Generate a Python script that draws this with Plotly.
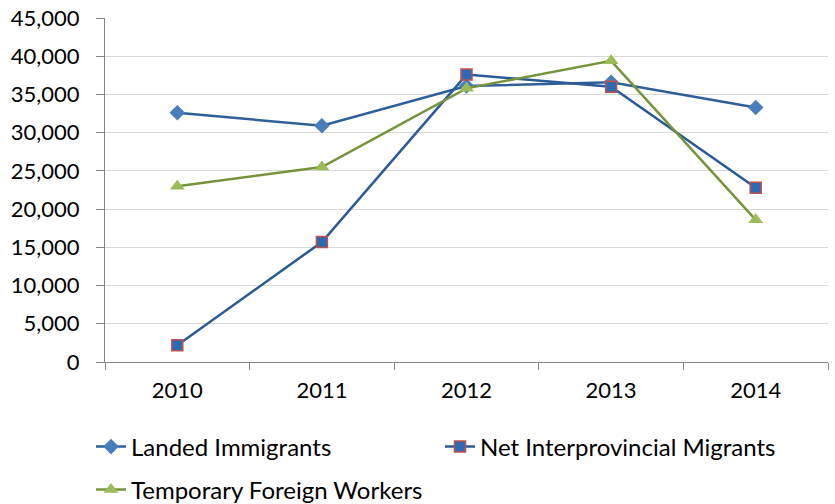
import plotly.graph_objects as go

years = ["2010", "2011", "2012", "2013", "2014"]
landed = [32600, 30900, 36100, 36600, 33300]
net_interprov = [2200, 15700, 37600, 36000, 22800]
tfw = [23000, 25500, 35800, 39400, 18600]
y_ticks = [0, 5000, 10000, 15000, 20000, 25000, 30000, 35000, 40000, 45000]

FONT = "Lato, Carlito, Calibri, sans-serif"
W, H = 835, 504

fig = go.Figure()
fig.add_trace(go.Scatter(
    x=years, y=landed, name="Landed Immigrants", mode="lines+markers",
    line=dict(color="#2f5f98", width=2.5),
    marker=dict(symbol="diamond", size=12, color="#4a7ebb", line=dict(width=0)),
    legend="legend"))
fig.add_trace(go.Scatter(
    x=years, y=net_interprov, name="Net Interprovincial Migrants", mode="lines+markers",
    line=dict(color="#2b5a96", width=2.5),
    marker=dict(symbol="square", size=11, color="#2d6ab1", line=dict(width=1.5, color="#c0504d")),
    legend="legend2"))
fig.add_trace(go.Scatter(
    x=years, y=tfw, name="Temporary Foreign Workers", mode="lines+markers",
    line=dict(color="#77933c", width=2.5),
    marker=dict(symbol="triangle-up", size=13, color="#9bbb59", line=dict(width=0)),
    legend="legend3"))

leg_common = dict(orientation="h", xref="container", yref="container",
                  xanchor="left", yanchor="middle",
                  font=dict(family=FONT, size=24, color="#000000"),
                  bgcolor="rgba(0,0,0,0)", borderwidth=0)

fig.update_layout(
    width=W, height=H,
    margin=dict(l=105, r=7, t=18, b=142, autoexpand=False),
    paper_bgcolor="white", plot_bgcolor="white",
    font=dict(family=FONT, size=22, color="#000000"),
    showlegend=True,
    legend=dict(x=91 / W, y=1 - 447 / H, **leg_common),
    legend2=dict(x=440 / W, y=1 - 447 / H, **leg_common),
    legend3=dict(x=91 / W, y=1 - 490 / H, **leg_common),
)
fig.update_xaxes(
    type="category", range=[-0.5, 4.5],
    showline=True, linecolor="#868686", linewidth=1.3,
    ticks="outside", tickson="boundaries", ticklen=7, tickcolor="#868686", tickwidth=1.3,
    showgrid=False, tickfont=dict(family=FONT, size=22, color="#000000"),
    ticklabelstandoff=8,
)
fig.update_yaxes(
    range=[0, 45000], tickvals=y_ticks, tickformat=",",
    showline=True, linecolor="#868686", linewidth=1.3,
    ticks="outside", ticklen=8, tickcolor="#868686", tickwidth=1.3,
    showgrid=True, gridcolor="#d9d9d9", gridwidth=1.3, zeroline=False,
    tickfont=dict(family=FONT, size=22, color="#000000"), ticklabelstandoff=12,
)

fig.write_html("out.html")
